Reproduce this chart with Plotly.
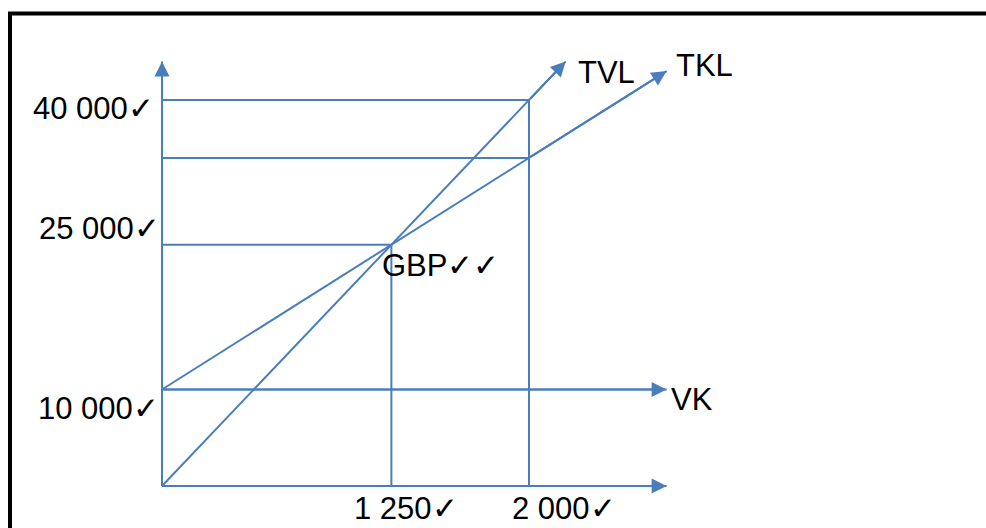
import plotly.graph_objects as go

# ---- data ----
unit_ticks = [1250, 2000]
unit_labels = ["1 250", "2 000"]
rand_ticks = [10000, 25000, 40000]
rand_labels = ["10 000", "25 000", "40 000"]

fixed_cost = 10000
bep_units = 1250
bep_value = 25000
max_units = 2000
tvl_units = [0, 1250, 2000, 2200]
tvl_values = [0, 25000, 40000, 44000]
tkl_units = [0, 1250, 2000, 2750]
tkl_values = [10000, 25000, 34000, 43000]
vk_units = [0, 2750]
vk_values = [10000, 10000]
x_axis_end = 2750
y_axis_end = 44000

BLUE = "#4a7ebb"
LW = 2
FONT = "Liberation Sans, Arial, DejaVu Sans, sans-serif"
FS = 31
CHECK = ('<span style="font-family:DejaVu Sans ExtraLight, DejaVu Sans;'
         'font-weight:200;font-size:31px">\u2713</span>')

fig = go.Figure()

def seg(xs, ys):
    fig.add_trace(go.Scatter(x=xs, y=ys, mode="lines",
                             line=dict(color=BLUE, width=LW),
                             hoverinfo="skip", showlegend=False))

# axes
seg([0, x_axis_end], [0, 0])
seg([0, 0], [0, y_axis_end])
# main lines
seg(tvl_units, tvl_values)
seg(tkl_units, tkl_values)
seg(vk_units, vk_values)
# guide lines
tv_at_max = tvl_values[tvl_units.index(max_units)]
tk_at_max = tkl_values[tkl_units.index(max_units)]
seg([0, max_units], [tv_at_max, tv_at_max])
seg([0, max_units], [tk_at_max, tk_at_max])
seg([0, bep_units], [bep_value, bep_value])
seg([bep_units, bep_units], [0, bep_value])
seg([max_units, max_units], [0, tv_at_max])

def arrow(x0, y0, x1, y1):
    fig.add_annotation(x=x1, y=y1, ax=x0, ay=y0, xref="x", yref="y",
                       axref="x", ayref="y", text="", showarrow=True,
                       arrowhead=2, arrowsize=1.5, arrowwidth=LW,
                       arrowcolor=BLUE, standoff=0, startstandoff=0,
                       font=dict(size=1))

arrow(0, 0, x_axis_end, 0)
arrow(0, 0, 0, y_axis_end)
arrow(tvl_units[-2], tvl_values[-2], tvl_units[-1], tvl_values[-1])
arrow(tkl_units[-2], tkl_values[-2], tkl_units[-1], tkl_values[-1])
arrow(vk_units[0], vk_values[0], vk_units[-1], vk_values[-1])

def label(x, y, text, xanchor, xshift, yshift):
    fig.add_annotation(x=x, y=y, xref="x", yref="y", text=text,
                       showarrow=False, xanchor=xanchor, yanchor="middle",
                       xshift=xshift, yshift=yshift,
                       font=dict(family=FONT, size=FS, color="black"))

# value labels on the y axis
y_shifts = [-18, 17, -8]
x_shifts = [-1, 0, -6]
for v, t, ys, xs in zip(rand_ticks, rand_labels, y_shifts, x_shifts):
    label(0, v, t + CHECK, "right", xs, ys)
# unit labels on the x axis
for u, t, xs in zip(unit_ticks, unit_labels, [15, 35]):
    label(u, 0, t + CHECK, "center", xs, -22)

label(bep_units, bep_value, "GBP" + CHECK + CHECK, "left", -11, -20)
label(tvl_units[-1], tvl_values[-1], "TVL", "left", 10, -11)
label(tkl_units[-1], tkl_values[-1], "TKL", "left", 7, 6)
label(vk_units[-1], vk_values[-1], "VK", "left", 2, -10)

# page frame
fig.add_shape(type="line", xref="paper", yref="paper",
              x0=10 / 986, x1=10 / 986, y0=1 - 13.5 / 528, y1=-0.05,
              line=dict(color="black", width=4))
fig.add_shape(type="line", xref="paper", yref="paper",
              x0=8 / 986, x1=1.05, y0=1 - 13.5 / 528, y1=1 - 13.5 / 528,
              line=dict(color="black", width=4))

px_per_unit = 367 / 2000
px_per_rand = 386 / 40000
fig.update_layout(
    width=986, height=528,
    margin=dict(l=0, r=0, t=0, b=0, pad=0),
    paper_bgcolor="white", plot_bgcolor="white",
    xaxis=dict(range=[-162 / px_per_unit, (986 - 162) / px_per_unit],
               visible=False, showgrid=False, zeroline=False),
    yaxis=dict(range=[-(528 - 486) / px_per_rand, 486 / px_per_rand],
               visible=False, showgrid=False, zeroline=False),
    showlegend=False,
)

fig.write_html("out.html", config={"displayModeBar": False},
               post_script="document.body.style.margin='0px';"
                           "document.body.style.overflow='hidden';")
